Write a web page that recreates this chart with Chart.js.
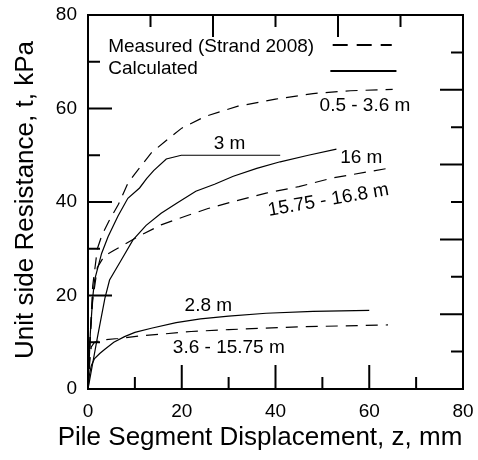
<!DOCTYPE html>
<html>
<head>
<meta charset="utf-8">
<script src="https://cdn.jsdelivr.net/npm/chart.js@4.4.1/dist/chart.umd.min.js"></script>
<style>
  html, body { margin: 0; padding: 0; background: #fff; }
</style>
</head>
<body>
<canvas id="myChart" width="478" height="460"></canvas>
<script>
// measured curves (Strand 2008), [z mm, t kPa]
const meas_05_36 = [[0,0],[0.5,12],[1,22],[2,30],[3,33],[4.5,36],[6.5,39.5],[8.5,44],[10,46],[13.5,50.5],[16.5,53],[20,55.8],[25,58.3],[32,60.5],[40,62],[48,63.2],[56,63.8],[65,64.1]];
const meas_1575_168 = [[0,0],[0.4,10],[1,19],[2,26],[3.5,28.5],[5.3,29.5],[10.7,32.6],[15.6,35.1],[20.6,36.9],[25.6,38.6],[31,40.1],[38,41.9],[45,43.3],[52,45.1],[64,47.2]];
const meas_36_1575 = [[0,0],[0.3,5],[0.7,9],[1.4,10],[3,10.5],[6.4,10.8],[11.4,11.4],[16.4,11.8],[22,12.3],[30,12.7],[45,13.3],[64,13.7]];

// calculated curves
const calc_3 = [[0,0],[0.5,12],[1,19.5],[1.4,23.3],[2.9,29],[4.3,32.6],[6.4,37],[8.5,40.8],[11,43],[12.5,45],[14,46.7],[16.7,49.2],[19.9,50],[41,50]];
const calc_16 = [[0,0],[2,11],[3.6,19.4],[4.6,23.3],[7.1,27.6],[9.6,31.9],[12.4,35],[15.6,37.6],[19,39.8],[23,42.3],[27,43.8],[31,45.5],[36,47.2],[41,48.6],[47,50],[53,51.3]];
const calc_28 = [[0,0],[0.3,3],[0.7,5],[1.4,6.5],[2.5,7.6],[3.6,8.5],[5.5,10],[7.8,11.2],[10,12.1],[13.5,13],[18.8,14.2],[24,15],[30,15.6],[38,16.2],[48,16.6],[60,16.8]];

// curve labels: text, x, y, rotation (deg)
const curveLabels = [
  ['0.5 - 3.6 m', 49.4, 59.5, 0],
  ['3 m', 26.8, 51.3, 0],
  ['16 m', 53.8, 48.4, 0],
  ['15.75 - 16.8 m', 51.3, 40.4, -10],
  ['2.8 m', 20.6, 16.7, 0],
  ['3.6 - 15.75 m', 18.1, 7.8, 0]
];

const tickLabels = [0, 20, 40, 60, 80];
const xTicks = [10, 20, 30, 40, 50, 60, 70];
const yTicks = [10, 20, 30, 40, 50, 60, 70];
const topTicks = [80/6, 160/6, 240/6, 320/6, 400/6];
const rightTicks = [8, 16, 24, 32, 40, 48, 56, 64, 72];

const FONT = 'Arial, "Liberation Sans", sans-serif';
const DASH = [12, 8];

function pts(arr) { return arr.map(p => ({x: p[0], y: p[1]})); }

function line(data, dashed) {
  return {
    data: pts(data),
    borderColor: '#000',
    borderWidth: 1.2,
    borderDash: dashed ? DASH : [],
    pointRadius: 0,
    tension: 0,
    fill: false
  };
}

const extras = {
  id: 'extras',
  afterDatasetsDraw(chart) {
    const {ctx, chartArea: a, scales: {x, y}} = chart;
    ctx.save();
    ctx.strokeStyle = '#000';
    ctx.fillStyle = '#000';
    ctx.lineWidth = 2;
    ctx.setLineDash([]);
    ctx.strokeRect(a.left, a.top, a.right - a.left, a.bottom - a.top);

    ctx.beginPath();
    xTicks.forEach(v => {
      const px = x.getPixelForValue(v);
      const len = v % 20 === 0 ? 24 : 12;
      ctx.moveTo(px, a.bottom); ctx.lineTo(px, a.bottom - len);
    });
    yTicks.forEach(v => {
      const py = y.getPixelForValue(v);
      const len = v % 20 === 0 ? 24 : 12;
      ctx.moveTo(a.left, py); ctx.lineTo(a.left + len, py);
    });
    topTicks.forEach((v, i) => {
      const px = x.getPixelForValue(v);
      const len = i % 2 === 1 ? 22 : 12;
      ctx.moveTo(px, a.top); ctx.lineTo(px, a.top + len);
    });
    rightTicks.forEach(v => {
      const py = y.getPixelForValue(v);
      const len = v % 16 === 0 ? 23 : 12;
      ctx.moveTo(a.right, py); ctx.lineTo(a.right - len, py);
    });
    ctx.stroke();

    // tick labels
    ctx.font = '19px ' + FONT;
    ctx.textBaseline = 'middle';
    ctx.textAlign = 'center';
    tickLabels.forEach(v => ctx.fillText(String(v), x.getPixelForValue(v), a.bottom + 23));
    ctx.textAlign = 'right';
    tickLabels.forEach(v => ctx.fillText(String(v), a.left - 11, y.getPixelForValue(v)));

    // legend
    ctx.textAlign = 'left';
    ctx.textBaseline = 'alphabetic';
    ctx.fillText('Measured (Strand 2008)', x.getPixelForValue(4.3), y.getPixelForValue(72.1));
    ctx.fillText('Calculated', x.getPixelForValue(4.3), y.getPixelForValue(67.4));
    ctx.lineWidth = 2;
    ctx.setLineDash([15, 9]);
    ctx.beginPath();
    ctx.moveTo(x.getPixelForValue(52.2), y.getPixelForValue(73.6));
    ctx.lineTo(x.getPixelForValue(64.8), y.getPixelForValue(73.6));
    ctx.stroke();
    ctx.setLineDash([]);
    ctx.beginPath();
    ctx.moveTo(x.getPixelForValue(51.7), y.getPixelForValue(68.0));
    ctx.lineTo(x.getPixelForValue(65.8), y.getPixelForValue(68.0));
    ctx.stroke();

    // curve labels
    curveLabels.forEach(([t, vx, vy, rot]) => {
      ctx.save();
      ctx.translate(x.getPixelForValue(vx), y.getPixelForValue(vy));
      if (rot) {
        ctx.rotate(rot * Math.PI / 180);
        ctx.textAlign = 'center';
        ctx.textBaseline = 'middle';
      }
      ctx.fillText(t, 0, 0);
      ctx.restore();
    });

    // axis titles
    ctx.font = '26px ' + FONT;
    ctx.textAlign = 'center';
    ctx.textBaseline = 'alphabetic';
    ctx.fillText('Pile Segment Displacement, z, mm', 260, 445);
    ctx.save();
    ctx.translate(33, 200);
    ctx.rotate(-Math.PI / 2);
    ctx.fillText('Unit side Resistance, t, kPa', 0, 0);
    ctx.restore();
    ctx.restore();
  }
};

const ctx = document.getElementById('myChart');

new Chart(ctx, {
  type: 'line',
  data: {
    datasets: [
      line(meas_05_36, true),
      line(meas_1575_168, true),
      line(meas_36_1575, true),
      line(calc_3, false),
      line(calc_16, false),
      line(calc_28, false)
    ]
  },
  options: {
    responsive: false,
    animation: false,
    layout: { padding: { top: 15, right: 15, left: 0, bottom: 0 } },
    plugins: {
      legend: { display: false },
      tooltip: { enabled: false }
    },
    scales: {
      x: {
        type: 'linear',
        min: 0,
        max: 80,
        grid: { display: false },
        border: { display: false },
        ticks: { display: false },
        afterFit(s) { s.height = 71; }
      },
      y: {
        type: 'linear',
        min: 0,
        max: 80,
        grid: { display: false },
        border: { display: false },
        ticks: { display: false },
        afterFit(s) { s.width = 88; }
      }
    }
  },
  plugins: [extras]
});
</script>
</body>
</html>
